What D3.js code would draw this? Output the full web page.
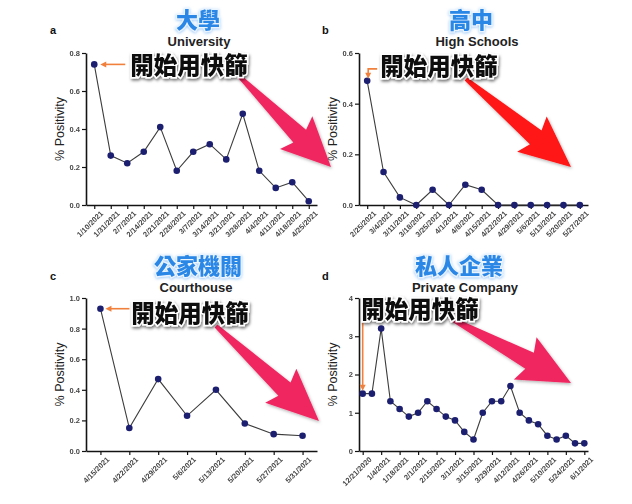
<!DOCTYPE html>
<html>
<head>
<meta charset="utf-8">
<script src="https://cdn.jsdelivr.net/npm/d3@7"></script>
<style>
  body { margin: 0; background: #fff; }
  svg { display: block; }
  .ticklab { opacity: 0.99; }
</style>
</head>
<body>
<script>
// ---- data ----
const datesA = ["1/10/2021", "1/31/2021", "2/7/2021", "2/14/2021", "2/21/2021", "2/28/2021", "3/7/2021",
  "3/14/2021", "3/21/2021", "3/28/2021", "4/4/2021", "4/11/2021", "4/18/2021", "4/25/2021"];
const valsA = [0.74, 0.26, 0.22, 0.28, 0.41, 0.18, 0.28, 0.32, 0.24, 0.48, 0.18, 0.09, 0.12, 0.02];

const datesB = ["2/25/2021", "3/4/2021", "3/11/2021", "3/18/2021", "3/25/2021", "4/1/2021", "4/8/2021",
  "4/15/2021", "4/22/2021", "4/29/2021", "5/6/2021", "5/13/2021", "5/20/2021", "5/27/2021"];
const valsB = [0.49, 0.13, 0.03, 0.0, 0.06, 0.0, 0.08, 0.06, 0.0, 0.0, 0.0, 0.0, 0.0, 0.0];

const datesC = ["4/15/2021", "4/22/2021", "4/29/2021", "5/6/2021", "5/13/2021", "5/20/2021", "5/27/2021", "5/31/2021"];
const valsC = [0.93, 0.15, 0.47, 0.23, 0.40, 0.18, 0.11, 0.10];

// weekly points, labelled every other week
const datesD = ["12/21/2020", "12/28/2020", "1/4/2021", "1/11/2021", "1/18/2021", "1/25/2021", "2/1/2021",
  "2/8/2021", "2/15/2021", "2/22/2021", "3/1/2021", "3/8/2021", "3/15/2021", "3/22/2021", "3/29/2021",
  "4/5/2021", "4/12/2021", "4/19/2021", "4/26/2021", "5/3/2021", "5/10/2021", "5/17/2021", "5/24/2021",
  "5/31/2021", "6/1/2021"];
const valsD = [1.5, 1.5, 3.2, 1.3, 1.1, 0.9, 1.0, 1.3, 1.1, 0.9, 0.8, 0.5, 0.3, 1.0, 1.3, 1.3, 1.7,
  1.0, 0.8, 0.7, 0.4, 0.3, 0.4, 0.2, 0.2];
const tickDatesD = ["12/21/2020", "1/4/2021", "1/18/2021", "2/1/2021", "2/15/2021", "3/1/2021", "3/15/2021",
  "3/29/2021", "4/12/2021", "4/26/2021", "5/10/2021", "5/24/2021", "6/1/2021"];

const ticksA = [0, 0.2, 0.4, 0.6, 0.8];
const ticksB = [0, 0.2, 0.4, 0.6];
const ticksC = [0, 0.2, 0.4, 0.6, 0.8, 1.0];
const ticksD = [0, 1, 2, 3, 4];

const W = 632, H = 504;
const latin = "'Liberation Sans', Arial, Helvetica, sans-serif";
const cjk = "'Noto Sans CJK TC', 'Noto Sans CJK SC', sans-serif";

const svg = d3.select("body").append("svg")
  .attr("width", W)
  .attr("height", H);

svg.append("rect").attr("width", W).attr("height", H).attr("fill", "#fff");

const defs = svg.append("defs");
const sh = defs.append("filter").attr("id", "shadow")
  .attr("x", "-20%").attr("y", "-30%").attr("width", "140%").attr("height", "170%");
sh.append("feDropShadow").attr("dx", 1).attr("dy", 2).attr("stdDeviation", 1.6)
  .attr("flood-color", "#000").attr("flood-opacity", 0.55);
const glow = defs.append("filter").attr("id", "glow")
  .attr("x", "-20%").attr("y", "-30%").attr("width", "140%").attr("height", "170%");
glow.append("feDropShadow").attr("dx", 0).attr("dy", 1).attr("stdDeviation", 1.5)
  .attr("flood-color", "#6fb3f5").attr("flood-opacity", 0.7);
const ash = defs.append("filter").attr("id", "ashadow")
  .attr("x", "-20%").attr("y", "-20%").attr("width", "140%").attr("height", "140%");
ash.append("feDropShadow").attr("dx", 1).attr("dy", 1.5).attr("stdDeviation", 1.5)
  .attr("flood-color", "#000").attr("flood-opacity", 0.3);

// big pointer arrow (annotation)
function bigArrow(T, P, headLen, headHalf, s0, s1, color) {
  const dx = P[0] - T[0], dy = P[1] - T[1], L = Math.hypot(dx, dy);
  const ux = dx / L, uy = dy / L, nx = -uy, ny = ux;
  const bx = P[0] - ux * headLen, by = P[1] - uy * headLen;
  const wx = bx - ux * 5, wy = by - uy * 5;
  const pts = [
    [T[0] + nx * s0, T[1] + ny * s0],
    [bx + nx * s1, by + ny * s1],
    [wx + nx * headHalf, wy + ny * headHalf],
    P,
    [wx - nx * headHalf, wy - ny * headHalf],
    [bx - nx * s1, by - ny * s1],
    [T[0] - nx * s0, T[1] - ny * s0]
  ];
  svg.append("path")
    .attr("d", "M" + pts.map(p => p.join(",")).join("L") + "Z")
    .attr("fill", color)
    .attr("filter", "url(#ashadow)");
}

function orangeArrow(pathPts, dir) {
  const g = svg.append("g");
  const tip = pathPts[pathPts.length - 1];
  g.append("path")
    .attr("d", d3.line()(pathPts))
    .attr("fill", "none")
    .attr("stroke", "#f0803c")
    .attr("stroke-width", 1.6);
  let head;
  if (dir === "left") head = [[tip[0] - 3, tip[1]], [tip[0] + 3, tip[1] - 3], [tip[0] + 3, tip[1] + 3]];
  else head = [[tip[0], tip[1] + 3], [tip[0] - 3, tip[1] - 3], [tip[0] + 3, tip[1] - 3]];
  g.append("path").attr("d", "M" + head.join("L") + "Z").attr("fill", "#f0803c");
}

function panel(o) {
  const x = d3.scalePoint().domain(o.dates).range([o.x0, o.x1]).padding(o.pad);
  const y = d3.scaleLinear().domain([0, o.yMax]).range([o.yBot, o.yTop]);

  const g = svg.append("g");

  // x axis
  const gx = g.append("g")
    .attr("class", "ticklab")
    .attr("transform", `translate(0,${o.yBot})`)
    .call(d3.axisBottom(x).tickValues(o.tickDates || o.dates).tickSizeOuter(0).tickSizeInner(4).tickPadding(3));
  gx.select(".domain").attr("stroke", "#111").attr("stroke-width", 1.6);
  gx.selectAll(".tick line").attr("stroke", "#111").attr("stroke-width", 1.2);
  gx.selectAll(".tick text")
    .attr("font-family", latin)
    .attr("font-size", 7.5)
    .attr("font-weight", "bold")
    .attr("fill", "#444")
    .attr("text-anchor", "end")
    .attr("dy", 0)
    .attr("transform", "translate(4,4) rotate(-45)");

  // y axis
  const gy = g.append("g")
    .attr("class", "ticklab")
    .attr("transform", `translate(${o.x0},0)`)
    .call(d3.axisLeft(y).tickValues(o.yTicks).tickFormat(o.fmt).tickSizeOuter(0).tickSizeInner(4).tickPadding(2));
  gy.select(".domain").attr("stroke", "#111").attr("stroke-width", 1.6);
  gy.selectAll(".tick line").attr("stroke", "#111").attr("stroke-width", 1.2);
  gy.selectAll(".tick text")
    .attr("font-family", latin)
    .attr("font-size", 7.5)
    .attr("font-weight", "bold")
    .attr("fill", "#444");

  g.append("text")
    .attr("transform", `translate(${o.x0 - 22},${(o.yTop + o.yBot) / 2}) rotate(-90)`)
    .attr("text-anchor", "middle")
    .attr("font-family", latin)
    .attr("font-size", 12.5)
    .attr("fill", "#222")
    .text("% Positivity");

  const pts = o.dates.map((d, i) => ({ d: d, v: o.values[i] }));
  g.append("path")
    .datum(pts)
    .attr("fill", "none")
    .attr("stroke", "#3c3c3c")
    .attr("stroke-width", 1.1)
    .attr("d", d3.line().x(p => x(p.d)).y(p => y(p.v)));
  g.selectAll("circle")
    .data(pts)
    .enter().append("circle")
    .attr("cx", p => x(p.d))
    .attr("cy", p => y(p.v))
    .attr("r", 3.3)
    .attr("fill", "#1c1f70");

  // panel letter + titles
  svg.append("text")
    .attr("x", o.letterX).attr("y", o.titleY - 12)
    .attr("font-family", latin).attr("font-size", 11).attr("font-weight", "bold")
    .attr("fill", "#111")
    .text(o.letter);
  svg.append("text")
    .attr("x", o.engX).attr("y", o.titleY)
    .attr("text-anchor", "middle")
    .attr("font-family", latin).attr("font-size", 13).attr("font-weight", "bold")
    .attr("fill", "#222")
    .text(o.eng);
  svg.append("text")
    .attr("x", o.zhX).attr("y", o.titleY - 18)
    .attr("text-anchor", "middle")
    .attr("font-family", cjk).attr("font-size", 22).attr("font-weight", 900)
    .attr("fill", "#2b87e6")
    .attr("stroke", "#eaf4ff").attr("stroke-width", 2.5).attr("paint-order", "stroke")
    .attr("filter", "url(#glow)")
    .text(o.zh);

  return { x, y };
}

const pa = panel({ x0: 86, x1: 317, yTop: 53, yBot: 205, pad: 0.5, dates: datesA, values: valsA,
  yMax: 0.8, yTicks: ticksA, fmt: d3.format(".1f"), letter: "a", letterX: 50, titleY: 46,
  eng: "University", engX: 199, zh: "大學", zhX: 198 });
const pb = panel({ x0: 359, x1: 588, yTop: 53, yBot: 205, pad: 0.5, dates: datesB, values: valsB,
  yMax: 0.6, yTicks: ticksB, fmt: d3.format(".1f"), letter: "b", letterX: 322, titleY: 46,
  eng: "High Schools", engX: 477, zh: "高中", zhX: 471 });
const pc = panel({ x0: 86, x1: 317, yTop: 298, yBot: 451, pad: 0.5, dates: datesC, values: valsC,
  yMax: 1.0, yTicks: ticksC, fmt: d3.format(".1f"), letter: "c", letterX: 50, titleY: 292,
  eng: "Courthouse", engX: 196, zh: "公家機關", zhX: 198 });
const pd = panel({ x0: 359, x1: 588, yTop: 298, yBot: 451, pad: 0.4, dates: datesD, values: valsD,
  tickDates: tickDatesD, yMax: 4, yTicks: ticksD, fmt: d3.format("d"), letter: "d", letterX: 322, titleY: 292,
  eng: "Private Company", engX: 465, zh: "私人企業", zhX: 459 });

// big arrows
bigArrow([240, 77], [331, 167], 44, 23, 2, 9, "#f02660");
bigArrow([466, 79], [571, 167], 46, 23, 2, 9, "#ff1414");
bigArrow([216, 326], [319, 421], 47, 23, 2, 9, "#f02660");
bigArrow([450, 318], [571, 383], 47, 24, 2, 9, "#f02660");

// small orange pointers to the first point
const ax = pa.x(datesA[0]), ay = pa.y(valsA[0]);
orangeArrow([[ax + 31, ay], [ax + 9, ay]], "left");
const bx = pb.x(datesB[0]), by = pb.y(valsB[0]);
orangeArrow([[bx + 10, by - 12], [bx + 1, by - 12], [bx + 1, by - 5]], "down");
const cx = pc.x(datesC[0]), cy = pc.y(valsC[0]);
orangeArrow([[cx + 29, cy], [cx + 8, cy]], "left");
const dx0 = pd.x(datesD[0]), dy0 = pd.y(valsD[0]);
orangeArrow([[dx0, dy0 - 71], [dx0, dy0 - 6]], "down");

// "開始用快篩" labels
const labels = [[189, 74], [439, 75], [190, 322], [420, 318]];
labels.forEach(p => {
  svg.append("text")
    .attr("x", p[0]).attr("y", p[1])
    .attr("text-anchor", "middle")
    .attr("font-family", cjk).attr("font-size", 23.5).attr("font-weight", 900)
    .attr("fill", "#111")
    .attr("stroke", "#fff").attr("stroke-width", 3).attr("paint-order", "stroke")
    .attr("filter", "url(#shadow)")
    .text("開始用快篩");
});
</script>
</body>
</html>
